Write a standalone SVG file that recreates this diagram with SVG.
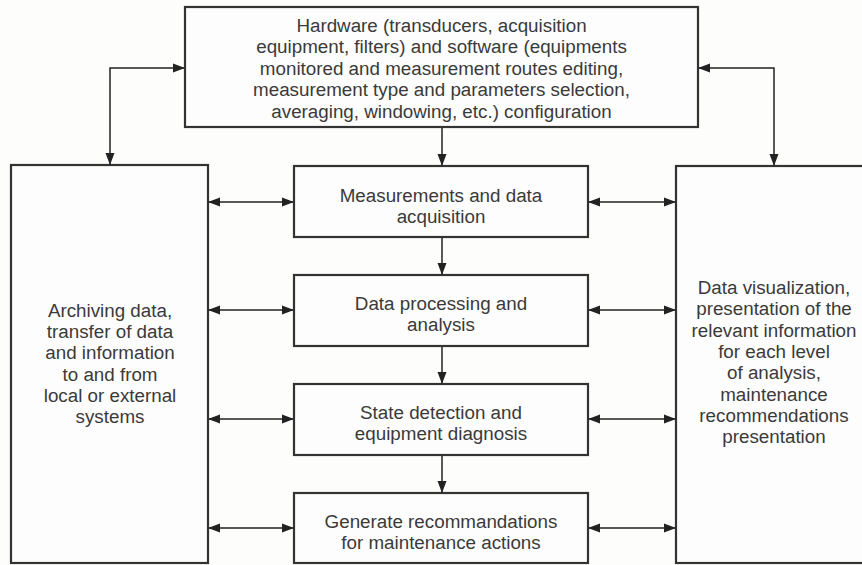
<svg xmlns="http://www.w3.org/2000/svg" width="862" height="565" viewBox="0 0 862 565">
<style>
.box{fill:#fdfdfd;stroke:#333;stroke-width:2.2}
.t{font-family:"Liberation Sans",Arial,sans-serif;font-size:18.8px;fill:#3a3a3a;text-anchor:middle}
.c{fill:none;stroke:#222;stroke-width:1.5}
</style>
<defs>
<marker id="ah" markerUnits="userSpaceOnUse" markerWidth="12" markerHeight="10" refX="11" refY="4.5" orient="auto-start-reverse" viewBox="0 0 12 9">
<path d="M0,0 L12,4.5 L0,9 z" fill="#222"/>
</marker>
</defs>
<rect x="0" y="0" width="862" height="565" fill="#fdfdfc"/>
<g id="config">
<rect class="box" x="185" y="7" width="513" height="120"/>
<text class="t" x="441.5" y="31.5">Hardware (transducers, acquisition</text>
<text class="t" x="441.5" y="53">equipment, filters) and software (equipments</text>
<text class="t" x="441.5" y="74.5">monitored and measurement routes editing,</text>
<text class="t" x="441.5" y="96">measurement type and parameters selection,</text>
<text class="t" x="441.5" y="117.5">averaging, windowing, etc.) configuration</text>
</g>
<g id="archiving">
<rect class="box" x="11" y="165" width="197" height="398"/>
<text class="t" x="110" y="317">Archiving data,</text>
<text class="t" x="110" y="338.2">transfer of data</text>
<text class="t" x="110" y="359.4">and information</text>
<text class="t" x="110" y="380.6">to and from</text>
<text class="t" x="110" y="401.8">local or external</text>
<text class="t" x="110" y="423">systems</text>
</g>
<g id="visualization">
<rect class="box" x="676" y="166" width="190" height="397"/>
<text class="t" x="774" y="294">Data visualization,</text>
<text class="t" x="774" y="315.3">presentation of the</text>
<text class="t" x="774" y="336.6">relevant information</text>
<text class="t" x="774" y="357.9">for each level</text>
<text class="t" x="774" y="379.2">of analysis,</text>
<text class="t" x="774" y="400.5">maintenance</text>
<text class="t" x="774" y="421.8">recommendations</text>
<text class="t" x="774" y="443.1">presentation</text>
</g>
<g id="measurements">
<rect class="box" x="294" y="166" width="294" height="71"/>
<text class="t" x="441" y="202">Measurements and data</text>
<text class="t" x="441" y="223">acquisition</text>
</g>
<g id="processing">
<rect class="box" x="294" y="275" width="294" height="71"/>
<text class="t" x="441" y="310">Data processing and</text>
<text class="t" x="441" y="331">analysis</text>
</g>
<g id="detection">
<rect class="box" x="294" y="384" width="294" height="71"/>
<text class="t" x="441" y="419">State detection and</text>
<text class="t" x="441" y="440">equipment diagnosis</text>
</g>
<g id="recommendations">
<rect class="box" x="294" y="493" width="294" height="70"/>
<text class="t" x="441" y="528">Generate recommandations</text>
<text class="t" x="441" y="549">for maintenance actions</text>
</g>
<g id="connectors">
<path class="c" d="M110,164 V68 H184" marker-start="url(#ah)" marker-end="url(#ah)"/>
<path class="c" d="M774,165 V68 H699" marker-start="url(#ah)" marker-end="url(#ah)"/>
<path class="c" d="M442,128 V165" marker-end="url(#ah)"/>
<path class="c" d="M442,238 V274" marker-end="url(#ah)"/>
<path class="c" d="M442,347 V383" marker-end="url(#ah)"/>
<path class="c" d="M442,456 V492" marker-end="url(#ah)"/>
<path class="c" d="M209,202 H293" marker-start="url(#ah)" marker-end="url(#ah)"/>
<path class="c" d="M209,310 H293" marker-start="url(#ah)" marker-end="url(#ah)"/>
<path class="c" d="M209,419 H293" marker-start="url(#ah)" marker-end="url(#ah)"/>
<path class="c" d="M209,528 H293" marker-start="url(#ah)" marker-end="url(#ah)"/>
<path class="c" d="M589,202 H675" marker-start="url(#ah)" marker-end="url(#ah)"/>
<path class="c" d="M589,310 H675" marker-start="url(#ah)" marker-end="url(#ah)"/>
<path class="c" d="M589,419 H675" marker-start="url(#ah)" marker-end="url(#ah)"/>
<path class="c" d="M589,528 H675" marker-start="url(#ah)" marker-end="url(#ah)"/>
</g>
</svg>
